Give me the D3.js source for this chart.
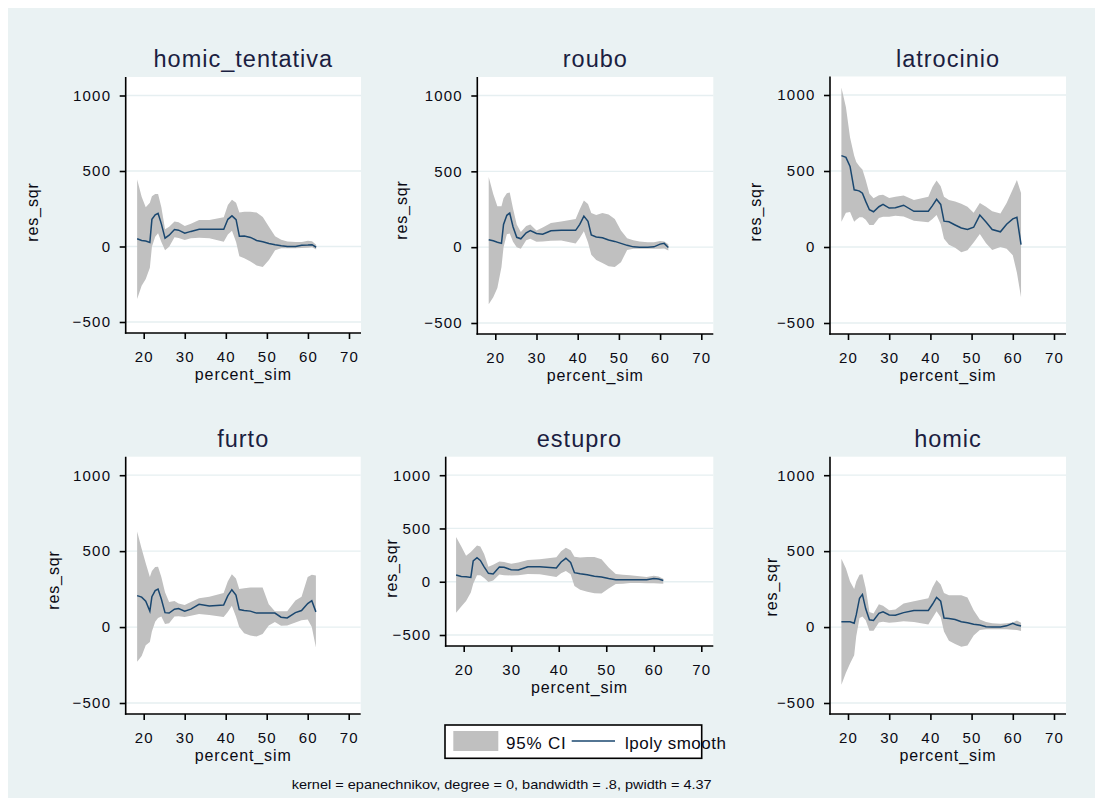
<!DOCTYPE html>
<html>
  <head>
    <meta charset="utf-8">
    <script src="https://cdnjs.cloudflare.com/ajax/libs/d3/7.8.5/d3.min.js"></script>
    <style>
      body { margin: 0; background: #ffffff; }
      svg { display: block; font-family: "Liberation Sans", Arial, sans-serif; }
      .grid line { stroke: #e6eff1; stroke-width: 1.3; }
      .ci { fill: #c0c0c0; stroke: none; }
      .smooth { fill: none; stroke: #1a476f; stroke-width: 1.5; }
      .axisline { stroke: #000; stroke-width: 1.6; }
      .tick line { stroke: #000; stroke-width: 1.6; }
      .tick text { fill: #0a0a14; font-size: 15px; letter-spacing: 1.2px; }
      .ptitle { fill: #1a2040; font-size: 23.5px; letter-spacing: 1px; }
      .atitle { fill: #0a0a14; font-size: 16px; letter-spacing: 0.9px; }
    </style>
  </head>
  <body>
    <svg width="1095" height="798"></svg>
    <script>
      // x grid shared by all the panels (percent_sim)
      var percentSim = [18.4, 19.5, 20.5, 21.5, 22, 22.8, 23.5, 24.3, 25.2, 26.2, 27.5, 28.5, 30, 31.5, 33.5, 36, 39.5,
        40.5, 41.5, 42.5, 43.3, 44.5, 46, 47.5, 49, 50.5, 52, 53.5, 55, 57, 58.5, 60, 61, 62];

      var crimes = ["homic_tentativa", "roubo", "latrocinio", "furto", "estupro", "homic"];

      // lpoly smooth + 95% CI
      var homicTentativaSmooth = [51, 40, 36, 27, 180, 210, 220, 150, 55, 75, 112, 108, 88, 100, 114, 114, 114, 180, 203, 178, 68, 69, 60, 40, 32, 20, 12, 5, 0, 0, 8, 10, 12, -5];
      var homicTentativaHi = [444, 330, 260, 290, 332, 348, 348, 260, 115, 130, 165, 160, 135, 150, 175, 176, 194, 275, 310, 290, 225, 230, 230, 225, 195, 130, 68, 45, 33, 30, 30, 38, 35, 12];
      var homicTentativaLo = [-348, -260, -215, -140, -2, 65, 87, 30, -25, -2, 62, 56, 43, 55, 58, 55, 31, 80, 105, 30, -65, -78, -100, -125, -135, -90, -25, -12, -11, -11, -10, -8, -5, -20];

      var rouboSmooth = [49, 42, 33, 25, 150, 210, 225, 135, 65, 55, 95, 110, 90, 85, 108, 111, 111, 150, 205, 170, 80, 67, 62, 47, 38, 25, 12, 2, 0, 0, 2, 20, 25, -2];
      var rouboHi = [462, 350, 270, 270, 322, 355, 360, 255, 150, 100, 140, 150, 110, 130, 160, 170, 185, 250, 308, 285, 225, 212, 225, 215, 185, 110, 58, 45, 38, 33, 33, 40, 38, 20];
      var rouboLo = [-377, -330, -270, -130, 0, 85, 90, 35, 0, -10, 45, 55, 35, 38, 42, 44, 25, 60, 105, 30, -50, -85, -105, -125, -130, -100, -18, -11, -11, -11, -11, -10, -8, -22];

      var latrocinioSmooth = [601, 590, 530, 376, 374, 368, 354, 300, 245, 232, 265, 280, 256, 258, 275, 235, 235, 272, 314, 280, 170, 166, 145, 125, 115, 130, 210, 165, 115, 100, 150, 185, 195, 15];
      var latrocinioHi = [1050, 920, 720, 600, 560, 530, 510, 440, 350, 320, 340, 343, 322, 330, 338, 310, 330, 395, 437, 400, 330, 310, 300, 285, 265, 225, 290, 265, 235, 220, 290, 380, 440, 355];
      var latrocinioLo = [166, 225, 230, 166, 180, 195, 195, 180, 145, 144, 190, 199, 199, 205, 200, 172, 163, 185, 210, 150, 55, 15, -5, -35, -22, 30, 85, 25, -20, 0, -12, -55, -170, -330];

      var furtoSmooth = [207, 197, 170, 105, 200, 240, 250, 185, 95, 92, 118, 122, 105, 118, 150, 138, 145, 205, 246, 210, 115, 109, 105, 92, 92, 92, 92, 65, 60, 95, 109, 155, 174, 100];
      var furtoHi = [630, 515, 420, 330, 370, 395, 397, 330, 230, 165, 172, 155, 145, 165, 190, 200, 225, 300, 348, 320, 250, 255, 261, 261, 261, 150, 104, 104, 104, 175, 200, 330, 345, 340];
      var furtoLo = [-228, -190, -120, -98, -30, 35, 60, 70, 20, 25, 70, 72, 66, 75, 86, 80, 66, 100, 141, 70, 0, -40, -55, -62, -45, 10, 33, 8, 10, 30, 45, 50, 0, -135];

      var estuproSmooth = [64, 50, 46, 40, 195, 225, 200, 140, 79, 73, 138, 135, 112, 110, 140, 140, 130, 185, 220, 180, 85, 75, 66, 52, 44, 30, 18, 18, 18, 18, 18, 30, 25, 12];
      var estuproHi = [420, 330, 245, 280, 302, 340, 330, 260, 140, 160, 190, 185, 168, 180, 205, 210, 230, 285, 320, 295, 235, 228, 232, 232, 210, 134, 73, 65, 60, 52, 45, 55, 50, 27];
      var estuproLo = [-290, -232, -180, -100, -18, 60, 60, 35, -3, 12, 67, 62, 58, 62, 72, 70, 45, 80, 100, 70, -40, -75, -95, -108, -110, -64, -22, -18, -12, -12, -14, -15, -16, -18];

      var homicSmooth = [35, 35, 35, 25, 80, 190, 215, 120, 48, 43, 90, 100, 80, 78, 95, 109, 109, 150, 195, 170, 60, 56, 50, 35, 28, 18, 14, 2, 0, 0, 8, 25, 13, 7];
      var homicHi = [450, 385, 300, 250, 300, 345, 347, 256, 100, 90, 150, 140, 110, 115, 155, 170, 190, 260, 310, 280, 225, 210, 210, 210, 195, 110, 50, 33, 25, 22, 25, 30, 43, 28];
      var homicLo = [-380, -300, -240, -185, -60, 60, 70, 45, -25, -25, 30, 35, 28, 32, 38, 33, 17, 60, 104, 65, -30, -90, -112, -130, -122, -55, -20, -15, -15, -15, -15, -18, -20, -26];

      var xTicks = [20, 30, 40, 50, 60, 70];
      var yTicks = [-500, 0, 500, 1000];
      var legendLabels = ["95% CI", "lpoly smooth"];
      var noteText = "kernel = epanechnikov, degree = 0, bandwidth = .8, pwidth = 4.37";

      var series = [
        { mid: homicTentativaSmooth, hi: homicTentativaHi, lo: homicTentativaLo },
        { mid: rouboSmooth, hi: rouboHi, lo: rouboLo },
        { mid: latrocinioSmooth, hi: latrocinioHi, lo: latrocinioLo },
        { mid: furtoSmooth, hi: furtoHi, lo: furtoLo },
        { mid: estuproSmooth, hi: estuproHi, lo: estuproLo },
        { mid: homicSmooth, hi: homicHi, lo: homicLo }
      ];

      // plot region boxes of each sub graph, [left, top, right, bottom], plus title positions
      var boxes = [
        { l: 125.7, t: 77, r: 361, b: 333, ty: 67, yx: 32, yy: 212 },
        { l: 477.3, t: 77, r: 713.3, b: 334, ty: 66.7, yx: 401.7, yy: 210 },
        { l: 830, t: 76.5, r: 1066, b: 334, ty: 66.7, yx: 755, yy: 211.7 },
        { l: 125.7, t: 456.7, r: 360.7, b: 714, ty: 446.7, yx: 53, yy: 580 },
        { l: 445.7, t: 456.7, r: 713.3, b: 646, ty: 446.7, yx: 391.7, yy: 568 },
        { l: 830, t: 456.7, r: 1066, b: 714, ty: 446.7, yx: 771.7, yy: 586.7 }
      ];

      var svg = d3.select("svg");

      svg.append("rect")
        .attr("x", 8).attr("y", 8)
        .attr("width", 1087).attr("height", 790)
        .attr("fill", "#eaf2f3");

      crimes.forEach(function (name, i) {
        var bx = boxes[i];
        var s = series[i];
        var pts = percentSim.map(function (p, k) { return { x: p, mid: s.mid[k], lo: s.lo[k], hi: s.hi[k] }; });

        var x = d3.scaleLinear().domain([20, 70]).range([bx.l + 18, bx.r - 12]);
        var y = d3.scaleLinear().domain([-500, 1000]).range([bx.b - 11, bx.t + 18.5]);

        var g = svg.append("g");

        g.append("rect")
          .attr("x", bx.l).attr("y", bx.t)
          .attr("width", bx.r - bx.l).attr("height", bx.b - bx.t)
          .attr("fill", "#ffffff");

        g.append("g").attr("class", "grid")
          .selectAll("line")
          .data(yTicks)
          .enter()
          .append("line")
          .attr("x1", bx.l).attr("x2", bx.r)
          .attr("y1", function (d) { return y(d); })
          .attr("y2", function (d) { return y(d); });

        var area = d3.area()
          .x(function (d) { return x(d.x); })
          .y0(function (d) { return y(d.lo); })
          .y1(function (d) { return y(d.hi); });

        var line = d3.line()
          .x(function (d) { return x(d.x); })
          .y(function (d) { return y(d.mid); });

        g.append("path").attr("class", "ci").attr("d", area(pts));
        g.append("path").attr("class", "smooth").attr("d", line(pts));

        var yAxis = g.append("g")
          .attr("transform", "translate(" + bx.l + ",0)")
          .call(d3.axisLeft(y).tickValues(yTicks).tickSize(6).tickSizeOuter(0).tickPadding(8.5).tickFormat(d3.format("d")));
        yAxis.select(".domain").remove();

        var xAxis = g.append("g")
          .attr("transform", "translate(0," + bx.b + ")")
          .call(d3.axisBottom(x).tickValues(xTicks).tickSize(6).tickSizeOuter(0).tickPadding(12).tickFormat(d3.format("d")));
        xAxis.select(".domain").remove();
        g.selectAll(".tick text").attr("font-family", null).attr("font-size", null).attr("fill", null);

        g.append("line").attr("class", "axisline")
          .attr("x1", bx.l).attr("x2", bx.l).attr("y1", bx.t).attr("y2", bx.b + 0.8);
        g.append("line").attr("class", "axisline")
          .attr("x1", bx.l - 0.8).attr("x2", bx.r).attr("y1", bx.b).attr("y2", bx.b);

        g.append("text").attr("class", "ptitle")
          .attr("x", (bx.l + bx.r) / 2).attr("y", bx.ty)
          .attr("text-anchor", "middle")
          .text(name);

        g.append("text").attr("class", "atitle")
          .attr("x", (bx.l + bx.r) / 2).attr("y", bx.b + 46.5)
          .attr("text-anchor", "middle")
          .text("percent_sim");

        g.append("text").attr("class", "atitle")
          .attr("transform", "translate(" + bx.yx + "," + bx.yy + ") rotate(-90)")
          .attr("text-anchor", "middle")
          .attr("dy", "0.35em")
          .text("res_sqr");
      });

      // legend
      var leg = svg.append("g");
      leg.append("rect")
        .attr("x", 445).attr("y", 725).attr("width", 256.7).attr("height", 33.3)
        .attr("fill", "#ffffff").attr("stroke", "#000").attr("stroke-width", 1.6);
      leg.append("rect")
        .attr("x", 453.3).attr("y", 731).attr("width", 45).attr("height", 20)
        .attr("class", "ci");
      leg.append("text")
        .attr("x", 506).attr("y", 749)
        .attr("fill", "#0a0a14").attr("font-size", "17px").attr("letter-spacing", "0.8px")
        .text(legendLabels[0]);
      leg.append("line")
        .attr("x1", 571.7).attr("x2", 615).attr("y1", 741).attr("y2", 741)
        .attr("class", "smooth");
      leg.append("text")
        .attr("x", 625).attr("y", 749)
        .attr("fill", "#0a0a14").attr("font-size", "17px").attr("letter-spacing", "0.5px")
        .text(legendLabels[1]);

      svg.append("text")
        .attr("x", 291.7).attr("y", 789)
        .attr("fill", "#0a0a14").attr("font-size", "13px")
        .attr("textLength", 420).attr("lengthAdjust", "spacingAndGlyphs")
        .text(noteText);
    </script>
  </body>
</html>
